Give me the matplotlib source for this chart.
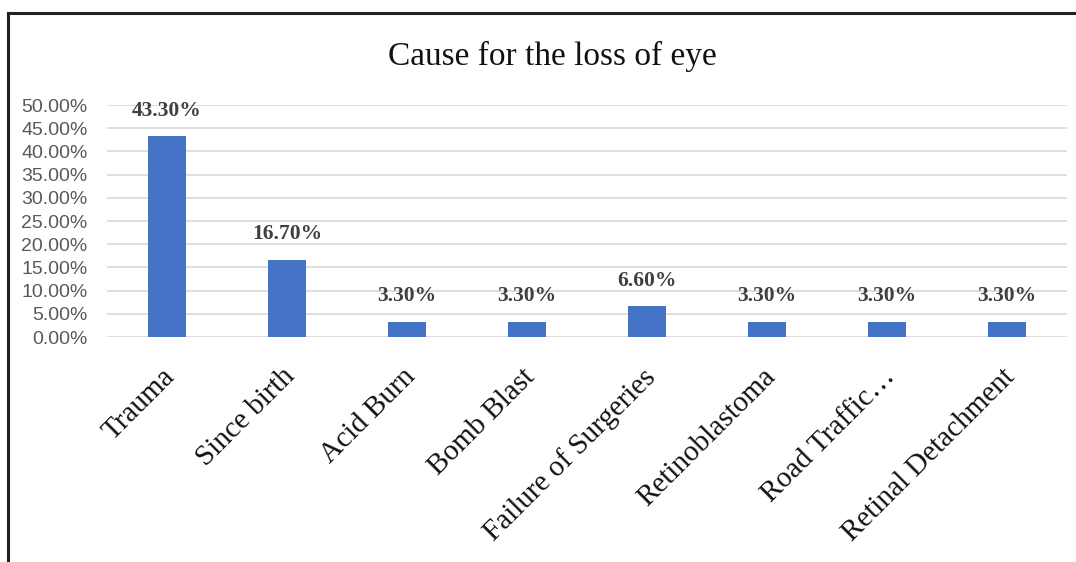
import matplotlib
matplotlib.use("Agg")
import matplotlib.pyplot as plt
from matplotlib.lines import Line2D
from matplotlib.ticker import FuncFormatter
from matplotlib.transforms import ScaledTranslation

# data
causes = ["Trauma", "Since birth", "Acid Burn", "Bomb Blast", "Failure of Surgeries",
          "Retinoblastoma", "Road Traffic\u2026", "Retinal Detachment"]
shares = [43.3, 16.7, 3.3, 3.3, 6.6, 3.3, 3.3, 3.3]
y_ticks = [0, 5, 10, 15, 20, 25, 30, 35, 40, 45, 50]

W, H = 1076, 562
fig = plt.figure(figsize=(W / 100, H / 100), dpi=100)
fig.patch.set_facecolor("white")

# frame around the chart (left and top only, as in the scan)
fig.add_artist(Line2D([8 / W, 8 / W], [0, 1 - 13 / H], color="#222222", lw=2.2))
fig.add_artist(Line2D([8 / W, 1], [1 - 13 / H, 1 - 13 / H], color="#222222", lw=2.2))

ax = fig.add_axes([107 / W, 1 - 337 / H, 960 / W, 232 / H])
x = list(range(len(causes)))
bars = ax.bar(x, shares, width=0.32, color="#4472C4", zorder=3)

ax.set_xlim(-0.5, len(causes) - 0.5)
ax.set_ylim(0, 50)
ax.set_yticks(y_ticks)
ax.yaxis.set_major_formatter(FuncFormatter(lambda v, p: f"{v:.2f}%"))
ax.grid(axis="y", color="#d9d9d9", lw=1.2, zorder=0)
for s in ax.spines.values():
    s.set_visible(False)
ax.tick_params(axis="both", length=0)
ax.tick_params(axis="y", labelsize=14, labelcolor="#595959", pad=14)
for lab in ax.get_yticklabels():
    lab.set_family("Liberation Sans")

ax.set_xticks(x)
ax.set_xticklabels(causes, rotation=45, ha="right", rotation_mode="anchor",
                   family="Liberation Serif", fontsize=21, color="#111111")
ax.tick_params(axis="x", pad=17)
# nudge the slanted labels a little left and down
shift = ScaledTranslation(-5 / 100, -3 / 100, fig.dpi_scale_trans)
for lab in ax.get_xticklabels():
    lab.set_transform(lab.get_transform() + shift)

for b, v in zip(bars, shares):
    ax.annotate(f"{v:.2f}%", (b.get_x() + b.get_width() / 2, v),
                xytext=(0, 11), textcoords="offset points", ha="center", va="bottom",
                family="Liberation Serif", fontweight="bold", fontsize=15.5, color="#404040")

fig.text(552 / W, 1 - 56 / H, "Cause for the loss of eye", ha="center", va="center",
         family="Liberation Serif", fontsize=24, color="#111111")

fig.savefig("out.png", dpi=100)
